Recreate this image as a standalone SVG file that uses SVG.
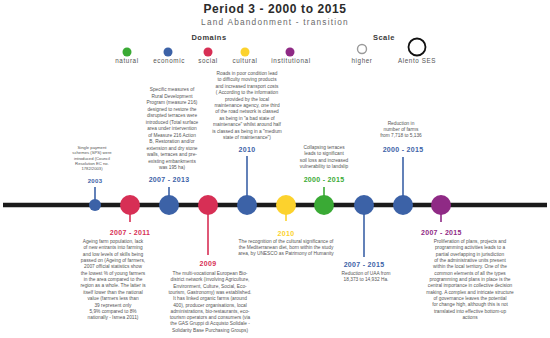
<svg xmlns="http://www.w3.org/2000/svg" width="550" height="338" viewBox="0 0 550 338">
<style>
text{font-family:"Liberation Sans",Arial,sans-serif}
.title{font-size:12px;font-weight:bold;fill:#2b2b2b;letter-spacing:0.6px}
.sub{font-size:8.3px;fill:#6a6a6a;letter-spacing:1.2px}
.hd{font-size:7.5px;font-weight:bold;fill:#3a3a3a;letter-spacing:0.5px}
.lg{font-size:6.3px;fill:#555;letter-spacing:0.6px}
.lab{font-size:7px;font-weight:bold;letter-spacing:0.3px}
.body{font-size:4.8px;fill:#555}
.small{font-size:4.2px;fill:#555}
.g{fill:#3aaa35}.b{fill:#3c62a7}.r{fill:#d72f55}.y{fill:#fcd22d}.p{fill:#8f2a85}
.sg{stroke:#3aaa35}.sb{stroke:#3c62a7}.sr{stroke:#d72f55}.sy{stroke:#fcd22d}.sp{stroke:#8f2a85}
.stem{stroke-width:1.6;fill:none}
</style>
<rect width="550" height="338" fill="#ffffff"/>
<g id="header">
<text class="title" x="275" y="13" text-anchor="middle">Period 3 - 2000 to 2015</text>
<text class="sub" x="275" y="25" text-anchor="middle">Land Abandonment - transition</text>
</g>
<g id="legend">
<text class="hd" x="209" y="40" text-anchor="middle">Domains</text>
<circle class="g" cx="127" cy="52" r="4.5"/>
<circle class="b" cx="168" cy="52" r="4.5"/>
<circle class="r" cx="208" cy="52" r="4.5"/>
<circle class="y" cx="245" cy="52" r="4.5"/>
<circle class="p" cx="290" cy="52" r="4.5"/>
<text class="lg" x="127" y="63" text-anchor="middle">natural</text>
<text class="lg" x="169" y="63" text-anchor="middle">economic</text>
<text class="lg" x="208" y="63" text-anchor="middle">social</text>
<text class="lg" x="245" y="63" text-anchor="middle">cultural</text>
<text class="lg" x="291" y="63" text-anchor="middle">institutional</text>
<text class="hd" x="384" y="40" text-anchor="middle">Scale</text>
<circle cx="362" cy="49" r="4.5" fill="none" stroke="#9a9a9a" stroke-width="1.4"/>
<circle cx="417" cy="47" r="8.5" fill="none" stroke="#111" stroke-width="1.8"/>
<text class="lg" x="362" y="63" text-anchor="middle">higher</text>
<text class="lg" x="417" y="63" text-anchor="middle">Alento SES</text>
</g>
<g id="connectors">
<line x1="3" y1="205" x2="547" y2="205" stroke="#1b1b1b" stroke-width="4.5"/>
<line class="stem sb" x1="95" y1="187" x2="95" y2="200"/>
<line class="stem sr" x1="130" y1="210" x2="130" y2="222"/>
<line class="stem sb" x1="169" y1="187" x2="169" y2="200"/>
<line class="stem sr" x1="208" y1="210" x2="208" y2="255"/>
<line class="stem sb" x1="247" y1="156" x2="247" y2="200"/>
<line class="stem sy" x1="286" y1="210" x2="286" y2="221"/>
<line class="stem sg" x1="324" y1="187" x2="324" y2="200"/>
<line class="stem sb" x1="364" y1="210" x2="364" y2="257"/>
<line class="stem sb" x1="403" y1="157" x2="403" y2="200"/>
<line class="stem sp" x1="441" y1="210" x2="441" y2="222"/>
</g>
<g id="n2003">
<circle class="b" cx="95" cy="205" r="6"/>
<text class="lab b" x="95" y="182.5" text-anchor="middle" style="font-size:6px">2003</text>
<text class="small" text-anchor="middle"><tspan x="92" y="149">Single payment</tspan><tspan x="92" dy="5.3">schemes (SPS) were</tspan><tspan x="92" dy="5.3">introduced (Council</tspan><tspan x="92" dy="5.3">Resolution EC no.</tspan><tspan x="92" dy="5.3">1782/2003)</tspan></text>
</g>
<g id="n2007-2011">
<circle class="r" cx="130" cy="205" r="10"/>
<text class="lab r" x="130" y="234.5" text-anchor="middle">2007 - 2011</text>
<text class="body" text-anchor="middle"><tspan x="113" y="243">Ageing farm population, lack</tspan><tspan x="113" dy="6.35">of new entrants into farming</tspan><tspan x="113" dy="6.35">and low levels of skills being</tspan><tspan x="113" dy="6.35">passed on (Ageing of farmers,</tspan><tspan x="113" dy="6.35">2007 official statistics show</tspan><tspan x="113" dy="6.35">the lowest % of young farmers</tspan><tspan x="113" dy="6.35">in the area compared to the</tspan><tspan x="113" dy="6.35">region as a whole. The latter is</tspan><tspan x="113" dy="6.35">itself lower than the national</tspan><tspan x="113" dy="6.35">value (farmers less than</tspan><tspan x="113" dy="6.35">39 represent only</tspan><tspan x="113" dy="6.35">5,9% compared to 8%</tspan><tspan x="113" dy="6.35">nationally - Ismea 2011)</tspan></text>
</g>
<g id="n2007-2013">
<circle class="b" cx="169" cy="205" r="10"/>
<text class="lab b" x="169" y="181.5" text-anchor="middle">2007 - 2013</text>
<text class="body" text-anchor="middle"><tspan x="172" y="91">Specific measures of</tspan><tspan x="172" dy="6.5">Rural Development</tspan><tspan x="172" dy="6.5">Program (measure 216)</tspan><tspan x="172" dy="6.5">designed to restore the</tspan><tspan x="172" dy="6.5">disrupted terraces were</tspan><tspan x="172" dy="6.5">introduced (Total surface</tspan><tspan x="172" dy="6.5">area under intervention</tspan><tspan x="172" dy="6.5">of Measure 216 Action</tspan><tspan x="172" dy="6.5">B, Restoration and/or</tspan><tspan x="172" dy="6.5">extension and dry stone</tspan><tspan x="172" dy="6.5">walls, terraces and pre-</tspan><tspan x="172" dy="6.5">existing embankments</tspan><tspan x="172" dy="6.5">was 195 ha)</tspan></text>
</g>
<g id="n2009">
<circle class="r" cx="208" cy="205" r="10"/>
<text class="lab r" x="208" y="265.5" text-anchor="middle">2009</text>
<text class="body" text-anchor="middle"><tspan x="210" y="275">The multi-vocational European Bio-</tspan><tspan x="210" dy="6.3">district network (involving Agriculture,</tspan><tspan x="210" dy="6.3">Environment, Culture, Social, Eco-</tspan><tspan x="210" dy="6.3">tourism, Gastronomy) was established.</tspan><tspan x="210" dy="6.3">It has linked organic farms (around</tspan><tspan x="210" dy="6.3">400), producer organisations, local</tspan><tspan x="210" dy="6.3">administrations, bio-restaurants, eco-</tspan><tspan x="210" dy="6.3">tourism operators and consumers (via</tspan><tspan x="210" dy="6.3">the GAS Gruppi di Acquisto Solidale -</tspan><tspan x="210" dy="6.3">Solidarity Base Purchasing Groups)</tspan></text>
</g>
<g id="n2010-roads">
<circle class="b" cx="247" cy="205" r="10"/>
<text class="lab b" x="247" y="151.5" text-anchor="middle">2010</text>
<text class="body" text-anchor="middle"><tspan x="247" y="75">Roads in poor condition lead</tspan><tspan x="247" dy="6.4">to difficulty moving products</tspan><tspan x="247" dy="6.4">and increased transport costs</tspan><tspan x="247" dy="6.4">( According to the information</tspan><tspan x="247" dy="6.4">provided by the local</tspan><tspan x="247" dy="6.4">maintenance agency, one third</tspan><tspan x="247" dy="6.4">of the road network is classed</tspan><tspan x="247" dy="6.4">as being in "a bad state of</tspan><tspan x="247" dy="6.4">maintenance" whilst around half</tspan><tspan x="247" dy="6.4">is classed as being in a "medium</tspan><tspan x="247" dy="6.4">state of maintenance")</tspan></text>
</g>
<g id="n2010-unesco">
<circle class="y" cx="286" cy="205" r="10"/>
<text class="lab y" x="286" y="235.5" text-anchor="middle">2010</text>
<text class="body" text-anchor="middle"><tspan x="286" y="243">The recognition of the cultural significance of</tspan><tspan x="286" dy="6.2">the Mediterranean diet, born within the study</tspan><tspan x="286" dy="6.2">area, by UNESCO as Patrimony of Humanity</tspan></text>
</g>
<g id="n2000-2015-terraces">
<circle class="g" cx="324" cy="205" r="10"/>
<text class="lab g" x="324" y="181.5" text-anchor="middle">2000 - 2015</text>
<text class="body" text-anchor="middle"><tspan x="324" y="149">Collapsing terraces</tspan><tspan x="324" dy="6.3">leads to significant</tspan><tspan x="324" dy="6.3">soil loss and increased</tspan><tspan x="324" dy="6.3">vulnerability to landslip</tspan></text>
</g>
<g id="n2007-2015-uaa">
<circle class="b" cx="364" cy="205" r="10"/>
<text class="lab b" x="364" y="266.5" text-anchor="middle">2007 - 2015</text>
<text class="body" text-anchor="middle"><tspan x="366" y="274.5">Reduction of UAA from</tspan><tspan x="366" dy="6.3">18,373 to 14,932 Ha.</tspan></text>
</g>
<g id="n2000-2015-farms">
<circle class="b" cx="403" cy="205" r="10"/>
<text class="lab b" x="403" y="151.5" text-anchor="middle">2000 - 2015</text>
<text class="body" text-anchor="middle"><tspan x="401" y="124.5">Reduction in</tspan><tspan x="401" dy="6.3">number of farms</tspan><tspan x="401" dy="6.3">from 7,718 to 5,136</tspan></text>
</g>
<g id="n2007-2015-plans">
<circle class="p" cx="441" cy="205" r="10"/>
<text class="lab p" x="421" y="234.5">2007 - 2015</text>
<text class="body" text-anchor="middle"><tspan x="470" y="243">Proliferation of plans, projects and</tspan><tspan x="470" dy="6.33">programming activities leads to a</tspan><tspan x="470" dy="6.33">partial overlapping in jurisdiction</tspan><tspan x="470" dy="6.33">of the administrative units present</tspan><tspan x="470" dy="6.33">within the local territory. One of the</tspan><tspan x="470" dy="6.33">common elements of all the types</tspan><tspan x="470" dy="6.33">programming and plans in place is the</tspan><tspan x="470" dy="6.33">central importance in collective decision</tspan><tspan x="470" dy="6.33">making. A complex and intricate structure</tspan><tspan x="470" dy="6.33">of governance leaves the potential</tspan><tspan x="470" dy="6.33">for change high, although this is not</tspan><tspan x="470" dy="6.33">translated into effective bottom-up</tspan><tspan x="470" dy="6.33">actions</tspan></text>
</g>
</svg>
